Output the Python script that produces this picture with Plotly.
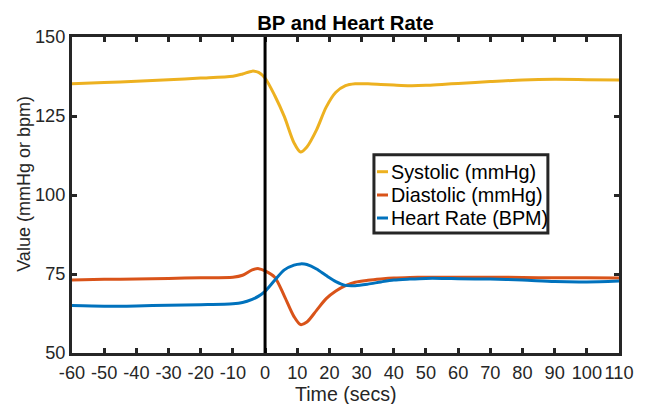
import plotly.graph_objects as go

# ---- data ----
time_s = [-60, -50, -40, -30, -20, -10, -7, -4, -2, 0, 3, 6, 9, 11, 13, 16, 19, 22, 25, 28,
          32, 36, 40, 45, 50, 55, 60, 70, 80, 90, 100, 110]
systolic = [135.2, 135.6, 136.0, 136.5, 137.0, 137.6, 138.3, 139.2, 138.8, 137.0, 131.5, 124.8,
            116.5, 113.6, 115.2, 120.6, 127.8, 132.5, 134.6, 135.2, 135.2, 135.0, 134.8, 134.6,
            134.7, 135.0, 135.3, 135.9, 136.4, 136.6, 136.5, 136.4]
diastolic = [73.1, 73.3, 73.4, 73.6, 73.8, 74.0, 74.6, 76.3, 76.7, 76.0, 74.0, 68.0, 61.5, 59.0,
             59.8, 63.5, 67.2, 69.6, 71.3, 72.4, 73.0, 73.4, 73.7, 73.9, 74.0, 74.0, 74.0, 74.0,
             73.9, 73.8, 73.8, 73.7]
heart_rate = [65.0, 64.8, 64.9, 65.1, 65.3, 65.6, 66.0, 67.0, 68.0, 69.5, 73.0, 76.3, 77.8, 78.2,
              78.0, 76.6, 74.5, 72.6, 71.4, 71.3, 71.8, 72.5, 73.1, 73.4, 73.6, 73.6, 73.5, 73.4,
              73.1, 72.6, 72.5, 72.8]
series_names = ["Systolic (mmHg)", "Diastolic (mmHg)", "Heart Rate (BPM)"]
series_colors = ["#EDB120", "#D95319", "#0072BD"]
event_time = 0
x_ticks = list(range(-60, 111, 10))
y_ticks = [50, 75, 100, 125, 150]

FONT = "Liberation Sans, Arial, Helvetica, sans-serif"
AX = "#262626"

fig = go.Figure()
for name, ys, col in zip(series_names, [systolic, diastolic, heart_rate], series_colors):
    fig.add_trace(go.Scatter(x=time_s, y=ys, mode="lines", name=name,
                             line=dict(color=col, width=3, shape="spline", smoothing=0.8),
                             showlegend=False))

fig.add_shape(type="line", xref="x", yref="paper", x0=event_time, x1=event_time, y0=0, y1=1,
              line=dict(color="black", width=3), layer="above")

# manual MATLAB-style legend
lx0, lx1, ly0, ly1 = 0.552, 0.870, 0.380, 0.627
fig.add_shape(type="rect", xref="paper", yref="paper", x0=lx0, x1=lx1, y0=ly0, y1=ly1,
              line=dict(color=AX, width=3), fillcolor="white", layer="above")
row_y = [0.5737, 0.50, 0.4272]
for name, col, ry in zip(series_names, series_colors, row_y):
    fig.add_shape(type="line", xref="paper", yref="paper", x0=0.5576, x1=0.5777, y0=ry, y1=ry,
                  line=dict(color=col, width=3), layer="above")
    fig.add_annotation(xref="paper", yref="paper", x=0.5795, y=ry, text=name, showarrow=False,
                       xanchor="left", yanchor="middle", font=dict(family=FONT, size=19.8, color="black"))

# axis titles as annotations
fig.add_annotation(xref="paper", yref="paper", x=-0.088, y=0.535, text="Value (mmHg or bpm)",
                   textangle=-90, showarrow=False, xanchor="center", yanchor="middle",
                   font=dict(family=FONT, size=18, color=AX))
fig.add_annotation(xref="paper", yref="paper", x=0.5, y=-(394 - 353) / 316, text="Time (secs)",
                   showarrow=False, xanchor="center", yanchor="middle",
                   font=dict(family=FONT, size=19.6, color=AX))

fig.update_layout(
    width=645, height=404,
    margin=dict(l=72, r=26, t=37, b=51),
    paper_bgcolor="white", plot_bgcolor="white",
    title=dict(text="<b>BP and Heart Rate</b>", x=0.5, xanchor="center", xref="paper",
               y=1 - 23 / 404, yanchor="middle", font=dict(family=FONT, size=20.3, color="black")),
    xaxis=dict(range=[-60, 110], tickmode="array", tickvals=x_ticks, ticktext=[str(v) for v in x_ticks],
               ticks="inside", ticklen=5, tickwidth=3, tickcolor=AX, showline=True, linewidth=3,
               linecolor=AX, mirror="ticks", showgrid=False, zeroline=False, automargin=False,
               ticklabelstandoff=1,
               tickfont=dict(family=FONT, size=18.2, color=AX)),
    yaxis=dict(range=[50, 150], tickmode="array", tickvals=y_ticks, ticktext=[str(v) for v in y_ticks],
               ticks="inside", ticklen=5, tickwidth=3, tickcolor=AX, showline=True, linewidth=3,
               linecolor=AX, mirror="ticks", showgrid=False, zeroline=False, automargin=False,
               tickfont=dict(family=FONT, size=18.2, color=AX)),
)

fig.write_html("out.html", config={"displayModeBar": False},
               post_script="document.body.style.margin='0';document.body.style.padding='0';")
